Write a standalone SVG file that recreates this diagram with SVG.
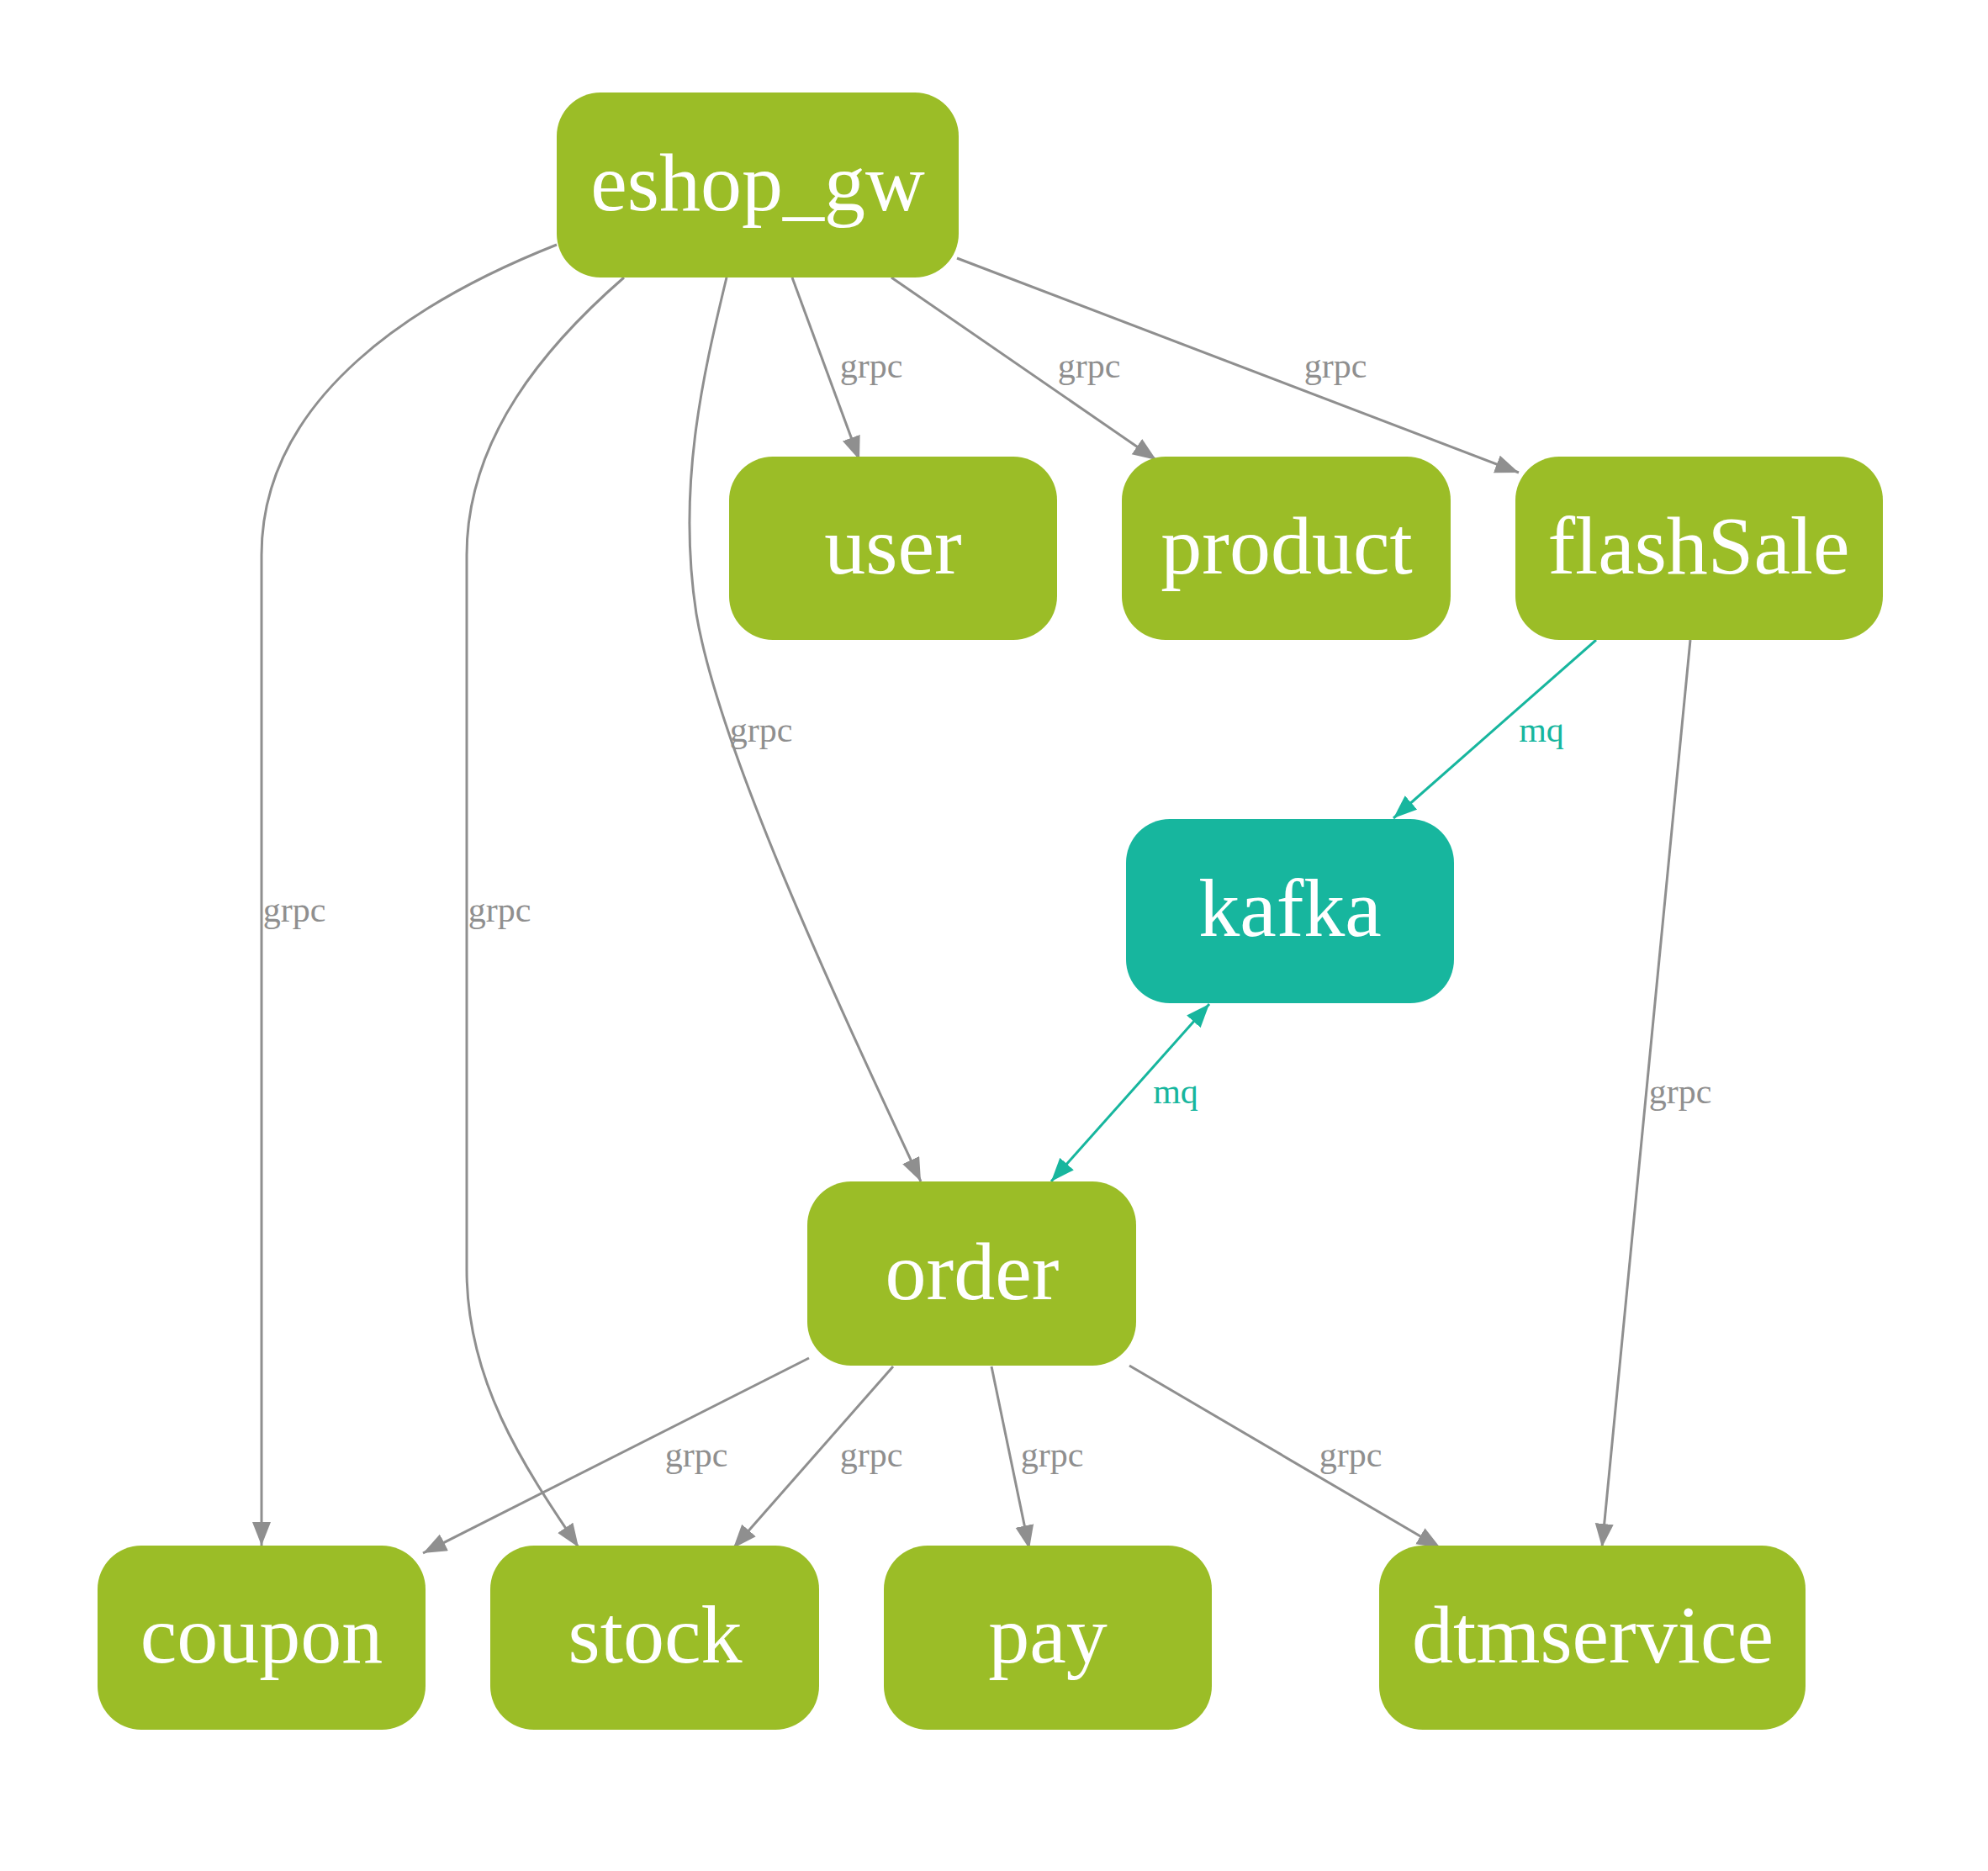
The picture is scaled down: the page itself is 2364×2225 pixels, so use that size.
<svg xmlns="http://www.w3.org/2000/svg" width="2364" height="2225" viewBox="0 0 2364 2225">
<style>
.n{fill:#9bbd27}
.k{fill:#17b69e}
.t{font-family:"Liberation Serif","Times New Roman",serif;font-size:98px;fill:#ffffff;text-anchor:middle}
.e{fill:none;stroke:#8f8f8f;stroke-width:3}
.m{fill:none;stroke:#17b69e;stroke-width:3}
.l{font-family:"Liberation Serif","Times New Roman",serif;font-size:42px;fill:#8f8f8f;text-anchor:middle}
.lm{font-family:"Liberation Serif","Times New Roman",serif;font-size:42px;fill:#17b69e;text-anchor:middle}
</style>
<defs>
<marker id="ag" markerUnits="userSpaceOnUse" markerWidth="30" markerHeight="24" refX="28" refY="11" orient="auto" viewBox="0 0 30 24"><path d="M0,0 L28,11 L0,22 z" fill="#8f8f8f"/></marker>
<marker id="at" markerUnits="userSpaceOnUse" markerWidth="30" markerHeight="24" refX="28" refY="11" orient="auto-start-reverse" viewBox="0 0 30 24"><path d="M0,0 L28,11 L0,22 z" fill="#17b69e"/></marker>
</defs>
<rect width="2364" height="2225" fill="#ffffff"/>
<g id="edges">
<path class="e" marker-end="url(#ag)" d="M942,330 L1022,547"/>
<path class="e" marker-end="url(#ag)" d="M1060,330 L1375,547"/>
<path class="e" marker-end="url(#ag)" d="M1138,307 L1806,562"/>
<path class="e" marker-end="url(#ag)" d="M864,330 C835,450 805,580 828,730 C855,890 990,1180 1095,1405"/>
<path class="e" marker-end="url(#ag)" d="M662,291 C500,355 311,470 311,660 L311,1838"/>
<path class="e" marker-end="url(#ag)" d="M742,330 C650,410 555,520 555,660 L555,1510 C555,1640 620,1740 688,1840"/>
<path class="m" marker-end="url(#at)" d="M1898,761 L1657,973"/>
<path class="m" marker-start="url(#at)" marker-end="url(#at)" d="M1438,1194 L1250,1405"/>
<path class="e" marker-end="url(#ag)" d="M2010,761 L1905,1840"/>
<path class="e" marker-end="url(#ag)" d="M962,1615 L503,1847"/>
<path class="e" marker-end="url(#ag)" d="M1062,1625 L872,1841"/>
<path class="e" marker-end="url(#ag)" d="M1179,1625 L1224,1842"/>
<path class="e" marker-end="url(#ag)" d="M1343,1624 L1713,1841"/>
<text class="l" x="1036" y="449">grpc</text>
<text class="l" x="1295" y="449">grpc</text>
<text class="l" x="1588" y="449">grpc</text>
<text class="l" x="905" y="882">grpc</text>
<text class="l" x="350" y="1096">grpc</text>
<text class="l" x="594" y="1096">grpc</text>
<text class="lm" x="1833" y="882">mq</text>
<text class="l" x="1998" y="1312">grpc</text>
<text class="lm" x="1398" y="1312">mq</text>
<text class="l" x="828" y="1744">grpc</text>
<text class="l" x="1036" y="1744">grpc</text>
<text class="l" x="1251" y="1744">grpc</text>
<text class="l" x="1606" y="1744">grpc</text>
</g>
<g id="eshop_gw"><rect class="n" x="662" y="110" width="478" height="220" rx="52"/><text class="t" x="901" y="250">eshop_gw</text></g>
<g id="user"><rect class="n" x="867" y="543" width="390" height="218" rx="52"/><text class="t" x="1062" y="682">user</text></g>
<g id="product"><rect class="n" x="1334" y="543" width="391" height="218" rx="52"/><text class="t" x="1530" y="682">product</text></g>
<g id="flashSale"><rect class="n" x="1802" y="543" width="437" height="218" rx="52"/><text class="t" x="2020" y="682">flashSale</text></g>
<g id="kafka"><rect class="k" x="1339" y="974" width="390" height="219" rx="52"/><text class="t" x="1534" y="1113">kafka</text></g>
<g id="order"><rect class="n" x="960" y="1405" width="391" height="219" rx="52"/><text class="t" x="1156" y="1545">order</text></g>
<g id="coupon"><rect class="n" x="116" y="1838" width="390" height="219" rx="52"/><text class="t" x="311" y="1977">coupon</text></g>
<g id="stock"><rect class="n" x="583" y="1838" width="391" height="219" rx="52"/><text class="t" x="779" y="1977">stock</text></g>
<g id="pay"><rect class="n" x="1051" y="1838" width="390" height="219" rx="52"/><text class="t" x="1246" y="1977">pay</text></g>
<g id="dtmservice"><rect class="n" x="1640" y="1838" width="507" height="219" rx="52"/><text class="t" x="1894" y="1977">dtmservice</text></g>
</svg>
